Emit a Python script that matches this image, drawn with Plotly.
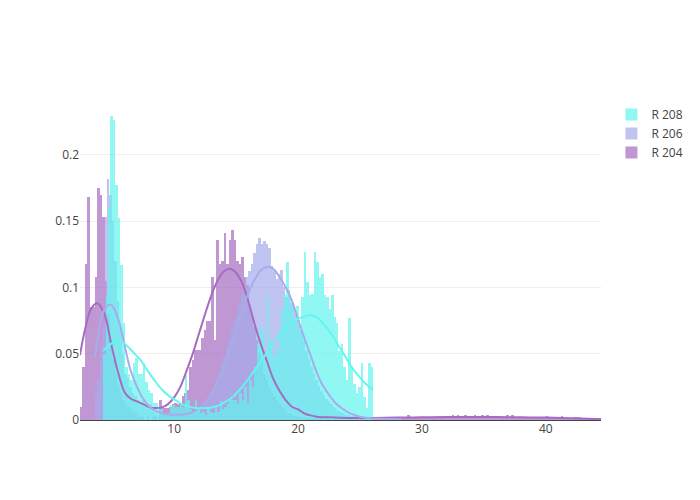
import plotly.graph_objects as go

# ---------------- data ----------------
group_labels = ["R 204", "R 206", "R 208"]
colors = ["#A56CC1", "#A6ACEC", "#63F5EF"]
bin_size = 0.2

# histogram densities, contiguous bins of width bin_size starting at first edge
r204_first_edge = 2.4
r204_density = [
    0.010, 0.040, 0.118, 0.168, 0.085, 0.085, 0.108, 0.175, 0.170, 0.153,
    0.105, 0.080, 0.060, 0.045, 0.035, 0.025, 0.020, 0.015, 0.012, 0.010,
    0.008, 0.006, 0.005, 0.004, 0.003, 0.002, 0.000, 0.003, 0.000, 0.002,
    0.003, 0.000, 0.015, 0.009, 0.009, 0.009, 0.010, 0.012, 0.013, 0.012,
    0.012, 0.018, 0.020, 0.023, 0.040, 0.045, 0.053, 0.053, 0.053, 0.062,
    0.068, 0.075, 0.075, 0.108, 0.060, 0.136, 0.118, 0.120, 0.141, 0.118,
    0.136, 0.143, 0.136, 0.120, 0.118, 0.123, 0.108, 0.102, 0.085, 0.080,
    0.070, 0.060, 0.050, 0.045, 0.035, 0.030, 0.025, 0.020, 0.018, 0.015,
    0.012, 0.010, 0.008, 0.006, 0.005, 0.004, 0.003, 0.003, 0.002, 0.002,
    0.001, 0.002, 0.001, 0.001, 0.002, 0.001, 0.001, 0.001, 0.000, 0.001,
    0.001, 0.000, 0.001, 0.001, 0.000, 0.001, 0.001, 0.000, 0.001, 0.001,
    0.001, 0.001, 0.000, 0.001, 0.001, 0.001, 0.000, 0.001, 0.001, 0.001,
    0.001, 0.001, 0.002, 0.001, 0.001, 0.002, 0.001, 0.001, 0.002, 0.001,
    0.001, 0.002, 0.004, 0.002, 0.001, 0.002, 0.002, 0.001, 0.002, 0.002,
    0.002, 0.002, 0.001, 0.002, 0.002, 0.002, 0.002, 0.003, 0.002, 0.002,
    0.004, 0.002, 0.004, 0.002, 0.002, 0.004, 0.002, 0.002, 0.003, 0.004,
    0.002, 0.002, 0.004, 0.002, 0.004, 0.002, 0.002, 0.002, 0.002, 0.002,
    0.002, 0.002, 0.004, 0.002, 0.004, 0.002, 0.002, 0.001, 0.002, 0.002,
    0.002, 0.001, 0.002, 0.001, 0.002, 0.001, 0.001, 0.001, 0.003, 0.001,
    0.002, 0.001, 0.001, 0.001, 0.003, 0.001, 0.001, 0.001, 0.001, 0.002,
    0.002, 0.002, 0.001, 0.001, 0.001, 0.001, 0.001, 0.001, 0.001, 0.001,
    0.001,
]

r206_first_edge = 3.58
r206_density = [
    0.020, 0.030, 0.055, 0.070, 0.153, 0.182, 0.170, 0.150, 0.120, 0.090,
    0.070, 0.050, 0.035, 0.032, 0.025, 0.020, 0.018, 0.015, 0.012, 0.015,
    0.010, 0.008, 0.012, 0.008, 0.006, 0.004, 0.005, 0.003, 0.004, 0.003,
    0.005, 0.003, 0.004, 0.003, 0.004, 0.005, 0.003, 0.004, 0.005, 0.004,
    0.006, 0.006, 0.008, 0.010, 0.012, 0.015, 0.018, 0.022, 0.028, 0.032,
    0.036, 0.042, 0.048, 0.055, 0.060, 0.068, 0.075, 0.080, 0.088, 0.095,
    0.100, 0.108, 0.112, 0.118, 0.126, 0.133, 0.137, 0.133, 0.135, 0.133,
    0.130, 0.116, 0.112, 0.106, 0.110, 0.113, 0.100, 0.093, 0.098, 0.088,
    0.085, 0.080, 0.072, 0.068, 0.060, 0.052, 0.046, 0.040, 0.035, 0.030,
    0.026, 0.022, 0.019, 0.016, 0.014, 0.012, 0.010, 0.008, 0.007, 0.006,
    0.005, 0.004, 0.004, 0.003, 0.003, 0.002, 0.002, 0.002, 0.002, 0.001,
    0.002, 0.001, 0.001, 0.002, 0.001, 0.001, 0.001, 0.000, 0.001, 0.001,
    0.000, 0.001, 0.001, 0.001,
]

r208_first_edge = 4.26
r208_density = [
    0.050, 0.094, 0.160, 0.229, 0.226, 0.177, 0.152, 0.117, 0.073, 0.040,
    0.035, 0.030, 0.043, 0.047, 0.035, 0.035, 0.043, 0.029, 0.023, 0.020,
    0.013, 0.013, 0.008, 0.008, 0.005, 0.005, 0.005, 0.011, 0.011, 0.010,
    0.010, 0.011, 0.010, 0.034, 0.015, 0.008, 0.006, 0.015, 0.008, 0.005,
    0.006, 0.004, 0.008, 0.006, 0.005, 0.010, 0.006, 0.014, 0.008, 0.010,
    0.012, 0.015, 0.015, 0.015, 0.012, 0.020, 0.015, 0.025, 0.013, 0.030,
    0.025, 0.040, 0.057, 0.070, 0.067, 0.045, 0.094, 0.060, 0.048, 0.055,
    0.050, 0.068, 0.084, 0.094, 0.119, 0.094, 0.086, 0.075, 0.086, 0.068,
    0.093, 0.127, 0.104, 0.094, 0.095, 0.127, 0.119, 0.108, 0.110, 0.094,
    0.093, 0.084, 0.094, 0.078, 0.073, 0.052, 0.057, 0.040, 0.030, 0.077,
    0.040, 0.027, 0.020, 0.025, 0.043, 0.017, 0.009, 0.043, 0.040,
]

# KDE curves
r204_kde_x = [2.4, 2.8, 3.3, 3.8, 4.4, 4.9, 5.5, 6.0, 6.5, 7.0, 7.5, 8.0, 8.5,
              9.0, 9.5, 10.0, 10.5, 11.0, 11.5, 12.0, 12.5, 13.0, 13.5, 14.0,
              14.5, 15.0, 15.5, 16.0, 16.5, 17.0, 17.5, 18.0, 18.5, 19.0, 19.5,
              20.0, 20.5, 21.0, 21.5, 22.5, 24.0, 26.0, 28.0, 30.0, 32.0, 34.0,
              36.0, 38.0, 40.0, 42.0, 43.5, 44.45]
r204_kde_y = [0.049, 0.068, 0.084, 0.088, 0.079, 0.058, 0.035, 0.021, 0.016,
              0.014, 0.012, 0.0095, 0.009, 0.0095, 0.012, 0.017, 0.025, 0.037,
              0.050, 0.065, 0.080, 0.094, 0.105, 0.112, 0.114, 0.111, 0.103,
              0.089, 0.072, 0.057, 0.044, 0.031, 0.022, 0.015, 0.010, 0.008,
              0.005, 0.0035, 0.0025, 0.002, 0.0015, 0.0015, 0.0018, 0.002,
              0.0022, 0.0022, 0.0022, 0.002, 0.0018, 0.0013, 0.0009, 0.0006]

r206_kde_x = [3.6, 3.85, 4.1, 4.5, 4.9, 5.3, 5.7, 6.1, 6.5, 7.0, 7.5, 8.0, 8.5,
              9.0, 9.5, 10.0, 10.5, 11.0, 11.5, 12.0, 12.5, 13.0, 13.5, 14.0,
              14.5, 15.0, 15.5, 16.0, 16.5, 17.0, 17.5, 18.0, 18.5, 19.0, 19.5,
              20.0, 20.5, 21.0, 21.5, 22.0, 22.5, 23.0, 23.5, 24.0, 24.5, 25.0,
              25.5, 26.0, 27.0, 28.0, 28.4]
r206_kde_y = [0.047, 0.063, 0.077, 0.085, 0.087, 0.081, 0.069, 0.052, 0.037,
              0.025, 0.016, 0.010, 0.007, 0.005, 0.0042, 0.004, 0.004, 0.0045,
              0.006, 0.009, 0.013, 0.020, 0.029, 0.040, 0.053, 0.068, 0.083,
              0.096, 0.106, 0.113, 0.1155, 0.114, 0.108, 0.100, 0.090, 0.076,
              0.062, 0.049, 0.036, 0.026, 0.019, 0.013, 0.009, 0.006, 0.004,
              0.0025, 0.0017, 0.0012, 0.0008, 0.0005, 0.0004]

r208_kde_x = [4.26, 4.7, 5.2, 5.7, 6.2, 6.8, 7.3, 7.8, 8.4, 9.0, 9.6, 10.1,
              10.6, 11.2, 11.8, 12.4, 13.0, 13.6, 14.2, 14.8, 15.4, 16.0, 16.6,
              17.2, 17.8, 18.4, 19.0, 19.6, 20.2, 20.8, 21.4, 22.0, 22.6, 23.2,
              23.8, 24.4, 25.0, 25.5, 26.06]
r208_kde_y = [0.052, 0.056, 0.059, 0.059, 0.056, 0.050, 0.045, 0.038, 0.030,
              0.023, 0.018, 0.015, 0.012, 0.010, 0.009, 0.009, 0.0095, 0.011,
              0.014, 0.018, 0.024, 0.031, 0.039, 0.047, 0.055, 0.063, 0.070,
              0.075, 0.077, 0.079, 0.078, 0.073, 0.066, 0.057, 0.048, 0.039,
              0.032, 0.027, 0.023]

# ---------------- figure ----------------
hists = [(r204_first_edge, r204_density),
         (r206_first_edge, r206_density),
         (r208_first_edge, r208_density)]
kdes = [(r204_kde_x, r204_kde_y), (r206_kde_x, r206_kde_y), (r208_kde_x, r208_kde_y)]

fig = go.Figure()
for label, color, (edge0, dens) in zip(group_labels, colors, hists):
    centers = [edge0 + bin_size * (i + 0.5) for i in range(len(dens))]
    fig.add_trace(go.Bar(
        x=centers, y=dens, width=bin_size, name=label, legendgroup=label,
        marker=dict(color=color, line=dict(width=0)), opacity=0.7,
        showlegend=True,
    ))
for label, color, (kx, ky) in zip(group_labels, colors, kdes):
    fig.add_trace(go.Scatter(
        x=kx, y=ky, mode="lines", name=label, legendgroup=label,
        line=dict(color=color, width=2, shape="spline", smoothing=1.0),
        showlegend=False,
    ))

fig.update_layout(
    template="none",
    width=700, height=500,
    barmode="overlay",
    bargap=0,
    hovermode="closest",
    font=dict(family="Open Sans, sans-serif", size=12, color="#444"),
    paper_bgcolor="white", plot_bgcolor="white",
    legend=dict(traceorder="reversed"),
    xaxis=dict(range=[2.4, 44.45], showgrid=False, zeroline=False,
               ticks="", showline=False),
    yaxis=dict(range=[0, 0.2413], showgrid=True, gridcolor="#eee",
               zeroline=True, zerolinecolor="#444", zerolinewidth=1,
               ticks="", showline=False),
)

fig.write_html("out.html",
               config={"displayModeBar": False},
               post_script="document.body.style.margin='0';")
